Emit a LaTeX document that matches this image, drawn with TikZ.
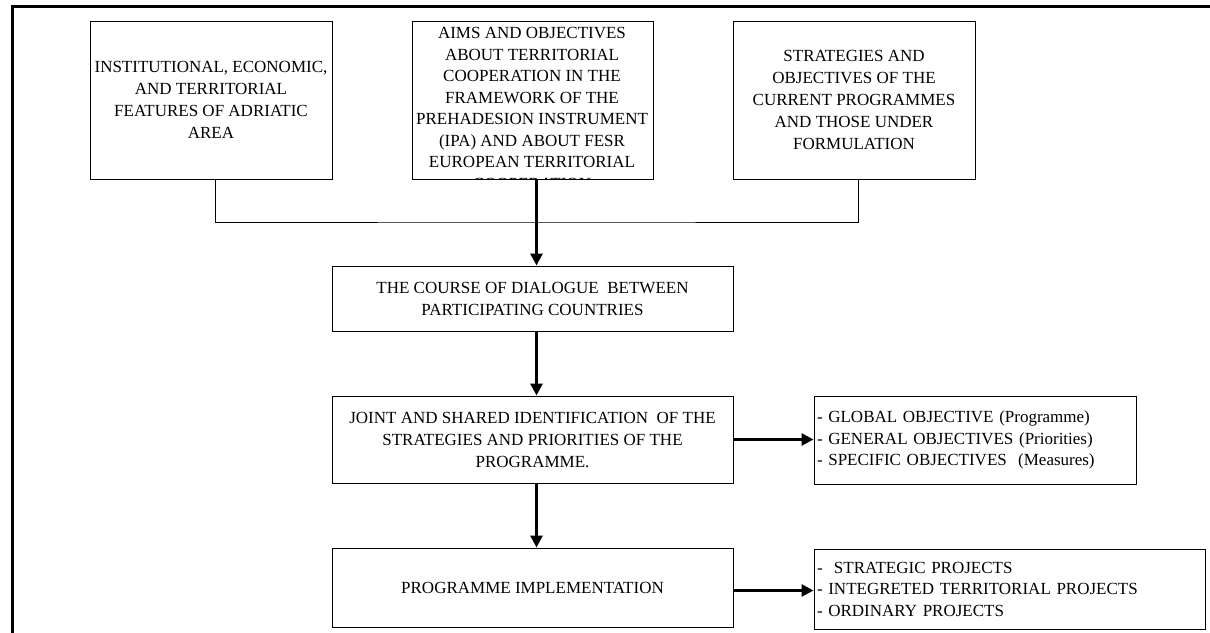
\documentclass[tikz,border=0pt]{standalone}
\usepackage{fontspec}
\setmainfont{Liberation Serif}
\usetikzlibrary{arrows.meta}
\begin{document}
\begin{tikzpicture}[x=1pt,y=-1pt,
  box/.style={draw,line width=1pt,inner sep=0pt,align=center,font=\fontsize{17}{22}\selectfont},
  listbox/.style={draw,line width=1pt,inner xsep=3pt,inner ysep=0pt,align=left,font=\fontsize{17}{21.5}\selectfont},
  txt/.style={inner sep=0pt,align=center,font=\fontsize{17}{21.5}\selectfont},
  thinline/.style={line width=1pt},
  arr/.style={line width=3pt,-{Triangle[length=12pt,width=12pt]}},
  frame/.style={line width=3pt}]
\useasboundingbox (0,0) rectangle (1210,632);
\draw[frame] (12,633) -- (12,6) -- (1211,6);

% top row
\node[box,minimum width=242pt,minimum height=158pt] (b1) at (211,100)
  {INSTITUTIONAL, ECONOMIC,\\AND TERRITORIAL\\FEATURES OF ADRIATIC\\AREA};
\node[box,minimum width=241pt,minimum height=158pt] (b2) at (532.5,100) {};
\begin{scope}
  \clip (b2.north west) rectangle (b2.south east);
  \node[txt,anchor=base] (b2t) at (532,189)
   {AIMS AND OBJECTIVES\\ABOUT TERRITORIAL\\COOPERATION IN THE\\FRAMEWORK OF THE\\PREHADESION INSTRUMENT\\(IPA) AND ABOUT FESR\\EUROPEAN TERRITORIAL\\COOPERATION};
\end{scope}
\node[box,minimum width=242pt,minimum height=158pt] (b3) at (854,100)
  {STRATEGIES AND\\OBJECTIVES OF THE\\CURRENT PROGRAMMES\\AND THOSE UNDER\\FORMULATION};

% middle column
\node[box,minimum width=401pt,minimum height=65pt] (b4) at (532.5,298.5)
  {THE COURSE OF DIALOGUE \ BETWEEN\\PARTICIPATING COUNTRIES};
\node[box,minimum width=401pt,minimum height=87pt] (b5) at (532.5,439.5)
  {JOINT AND SHARED IDENTIFICATION \ OF THE\\STRATEGIES AND PRIORITIES OF THE\\PROGRAMME.};
\node[box,minimum width=401pt,minimum height=79pt] (b6) at (532.5,587.5)
  {PROGRAMME IMPLEMENTATION};

% right column
\node[listbox,minimum height=88pt,text width=316pt] (b7) at (975,440)
  {- GLOBAL OBJECTIVE (Programme)\\- GENERAL OBJECTIVES (Priorities)\\- SPECIFIC OBJECTIVES \ (Measures)};
\node[listbox,minimum height=80pt,text width=385pt] (b8) at (1009.5,589)
  {- \ STRATEGIC PROJECTS\\- INTEGRETED TERRITORIAL PROJECTS\\- ORDINARY PROJECTS};

% connectors
\coordinate (jn) at (536,222);
\draw[thinline] ([xshift=4pt]b1.south) |- (jn) -| ([xshift=4pt]b3.south);
\draw[arr] ([xshift=4pt]b2.south) -- ([xshift=4pt]b4.north);
\draw[arr] ([xshift=4pt]b4.south) -- ([xshift=4pt]b5.north);
\draw[arr] ([xshift=4pt]b5.south) -- ([xshift=4pt]b6.north);
\draw[arr] (b5.east) -- (b5.east -| b7.west);
\draw[arr] ([yshift=-3pt]b6.east) -- ([yshift=-3pt]b6.east -| b8.west);
\end{tikzpicture}
\end{document}
